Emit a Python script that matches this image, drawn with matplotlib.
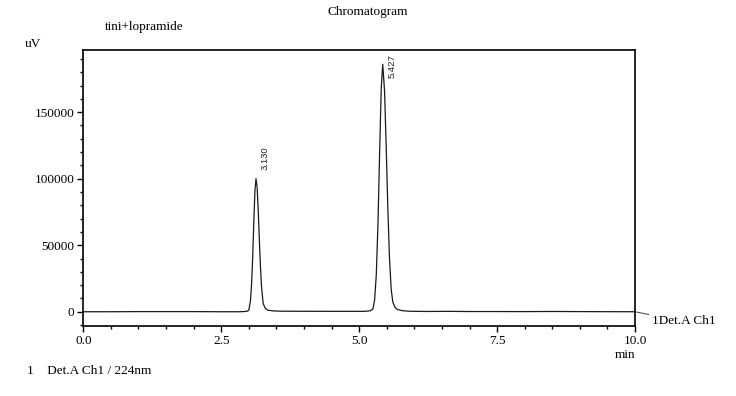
import matplotlib
matplotlib.use("Agg")
import matplotlib.pyplot as plt
from matplotlib.ticker import MultipleLocator, FixedLocator

# ---- data ----
time_min = [0.0, 0.5, 1.0, 1.5, 2.0, 2.5, 2.8, 2.9, 2.97, 3.0, 3.03, 3.05, 3.07,
            3.09, 3.11, 3.13, 3.15, 3.17, 3.19, 3.21, 3.23, 3.26, 3.30, 3.35,
            3.45, 3.6, 4.0, 4.5, 5.0, 5.1, 5.2, 5.25, 5.28, 5.31, 5.34, 5.37,
            5.40, 5.427, 5.46, 5.49, 5.52, 5.55, 5.58, 5.61, 5.65, 5.70, 5.78,
            5.9, 6.2, 6.6, 7.0, 7.5, 8.0, 8.5, 9.0, 9.5, 10.0]
signal_uv = [0, 0, 100, 100, 100, 0, 0, 100, 400, 1300, 8300, 20800, 40800,
             66800, 90400, 100000, 93800, 76800, 54800, 34800, 18800, 6200,
             2400, 1100, 600, 400, 350, 300, 300, 300, 700, 2100, 9000,
             27600, 64800, 118000, 168000, 186000, 166000, 124000, 77000,
             40000, 17000, 7300, 3200, 1600, 800, 400, 200, 300, 150, 150,
             100, 200, 100, 50, 0]

peak_times = [3.130, 5.427]
peak_heights = [100000, 186000]
peak_labels = ["3.130", "5.427"]

y_ticks = [0, 50000, 100000, 150000]
y_tick_labels = ["0", "50000", "100000", "150000"]
x_ticks = [0.0, 2.5, 5.0, 7.5, 10.0]
x_tick_labels = ["0.0", "2.5", "5.0", "7.5", "10.0"]

serif = "Liberation Serif"
sans = "Liberation Sans"

fig = plt.figure(figsize=(7.36, 3.96), dpi=100)
ax = fig.add_axes([0.1132, 0.1775, 0.7496, 0.6955])

ax.plot(time_min, signal_uv, color="#1a1a1a", lw=0.9, solid_joinstyle="round")

ax.set_xlim(0, 10)
ax.set_ylim(-10500, 196500)

ax.xaxis.set_major_locator(FixedLocator(x_ticks))
ax.set_xticklabels(x_tick_labels)
ax.xaxis.set_minor_locator(MultipleLocator(0.5))
ax.yaxis.set_major_locator(FixedLocator(y_ticks))
ax.set_yticklabels(y_tick_labels)
ax.yaxis.set_minor_locator(MultipleLocator(10000))

for lab in ax.get_xticklabels() + ax.get_yticklabels():
    lab.set_fontfamily(serif)
    lab.set_fontsize(9.5)

ax.tick_params(which="major", direction="out", length=4.5, width=1.0, color="black", pad=2)
ax.tick_params(which="minor", direction="out", length=2.5, width=1.0, color="black")
for s in ax.spines.values():
    s.set_linewidth(1.2)
    s.set_color("black")

# peak retention time labels
for t, h, lab, dy in zip(peak_times, peak_heights, peak_labels, [6, -10]):
    ax.annotate(lab, xy=(t, h), xytext=(3.5, dy), textcoords="offset points",
                rotation=90, ha="left", va="bottom", fontsize=6.8, fontfamily=sans,
                color="#222222", annotation_clip=False)

# channel label at right end
ax.annotate("1Det.A Ch1", xy=(10.0, 0), xytext=(12, -7), textcoords="offset points",
            ha="left", va="center", fontsize=9.5, fontfamily=serif,
            annotation_clip=False,
            arrowprops=dict(arrowstyle="-", color="#555555", lw=0.8,
                            shrinkA=0, shrinkB=1))

fig.text(368 / 736, 1 - 12 / 396, "Chromatogram", ha="center", va="center",
         fontsize=9.5, fontfamily=serif)
fig.text(105 / 736, 1 - 27 / 396, "tini+lopramide", ha="left", va="center",
         fontsize=9.5, fontfamily=serif)
fig.text(25 / 736, 1 - 44 / 396, "uV", ha="left", va="center",
         fontsize=9.5, fontfamily=serif)
fig.text(635 / 736, 1 - 355 / 396, "min", ha="right", va="center",
         fontsize=9.5, fontfamily=serif)
fig.text(27 / 736, 1 - 371 / 396, "1    Det.A Ch1 / 224nm", ha="left", va="center",
         fontsize=9.5, fontfamily=serif)

fig.savefig("out.png", dpi=100, facecolor="white")
